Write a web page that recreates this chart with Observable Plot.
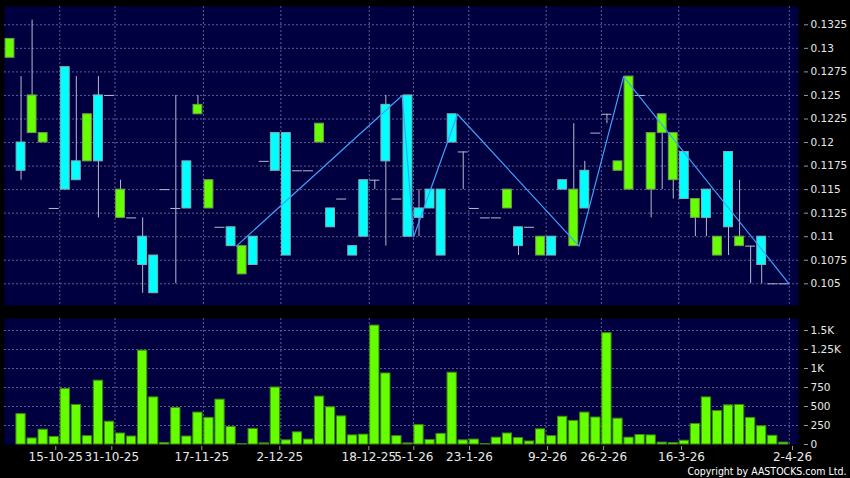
<!DOCTYPE html>
<html>
<head>
<meta charset="utf-8">
<script src="https://cdn.jsdelivr.net/npm/d3@7"></script>
<script src="https://cdn.jsdelivr.net/npm/@observablehq/plot@0.6"></script>
<style>
  html, body { margin: 0; padding: 0; background: #000; }
  #chart { width: 850px; height: 478px; background: #000; overflow: hidden; }
  #chart svg { display: block; }
</style>
</head>
<body>
<div id="chart"></div>
<script>
// ---- data ----
const opens  = [0.131,0.117,0.125,0.121,0.113,0.115,0.116,0.123,0.118,0.125,0.115,0.112,0.107,0.104,0.115,0.113,0.113,0.124,0.116,0.111,0.109,0.109,0.107,0.118,0.117,0.108,0.117,0.117,0.122,0.111,0.114,0.108,0.110,0.116,0.118,0.114,0.110,0.112,0.113,0.108,0.120,0.119,0.113,0.112,0.112,0.115,0.109,0.111,0.110,0.108,0.115,0.115,0.113,0.121,0.123,0.118,0.127,0.125,0.121,0.123,0.121,0.114,0.114,0.112,0.110,0.111,0.110,0.109,0.107,0.105,0.105];
const highs  = [0.131,0.127,0.133,0.121,0.113,0.128,0.127,0.123,0.127,0.125,0.116,0.112,0.112,0.108,0.115,0.125,0.118,0.125,0.116,0.111,0.111,0.109,0.110,0.118,0.121,0.121,0.117,0.117,0.122,0.113,0.114,0.109,0.116,0.116,0.125,0.114,0.125,0.115,0.115,0.115,0.123,0.119,0.113,0.112,0.112,0.115,0.111,0.111,0.110,0.110,0.116,0.122,0.118,0.121,0.123,0.118,0.127,0.125,0.121,0.123,0.121,0.119,0.114,0.115,0.110,0.119,0.116,0.109,0.110,0.105,0.105];
const lows   = [0.129,0.116,0.121,0.120,0.113,0.115,0.116,0.118,0.112,0.125,0.112,0.112,0.104,0.104,0.115,0.105,0.113,0.123,0.113,0.111,0.109,0.106,0.107,0.118,0.117,0.108,0.117,0.117,0.120,0.111,0.114,0.108,0.110,0.115,0.109,0.114,0.110,0.110,0.113,0.108,0.120,0.115,0.113,0.112,0.112,0.113,0.108,0.111,0.108,0.108,0.115,0.109,0.113,0.121,0.122,0.117,0.115,0.125,0.112,0.115,0.114,0.114,0.110,0.110,0.108,0.108,0.109,0.105,0.105,0.105,0.105];
const closes = [0.129,0.120,0.121,0.120,0.113,0.128,0.118,0.118,0.125,0.125,0.112,0.112,0.110,0.108,0.115,0.113,0.118,0.123,0.113,0.111,0.111,0.106,0.110,0.118,0.121,0.121,0.117,0.117,0.120,0.113,0.114,0.109,0.116,0.116,0.124,0.114,0.125,0.113,0.115,0.115,0.123,0.119,0.113,0.112,0.112,0.113,0.111,0.111,0.108,0.110,0.116,0.109,0.117,0.121,0.123,0.117,0.115,0.125,0.115,0.121,0.116,0.119,0.112,0.115,0.108,0.119,0.109,0.109,0.110,0.105,0.105];
const volumes = [0,400,80,195,100,730,520,110,840,300,145,105,1235,620,20,480,105,420,350,590,230,5,205,15,750,55,160,65,630,490,370,120,130,1565,935,110,15,255,60,140,945,55,65,5,90,145,85,40,200,110,365,310,420,355,1465,340,90,125,120,25,20,50,270,620,440,515,520,350,240,115,25];

// zig-zag line vertices (position on the date axis, price)
const zigzagX = [20.48, 35.48, 36.52, 40.48, 51.48, 55.5, 70.48];
const zigzagY = [0.109, 0.125, 0.110, 0.123, 0.109, 0.127, 0.105];

// axis ticks
const gridX = [4.5, 9.5, 17.5, 24.5, 32.5, 36.5, 41.5, 48.5, 53.5, 60.5, 70.5];
const dateTickX = [4.14, 9.21, 17.35, 24.41, 32.46, 36.53, 41.57, 48.63, 53.7, 60.75, 70.79];
const dateTickLabels = ["15-10-25","31-10-25","17-11-25","2-12-25","18-12-25","5-1-26","23-1-26","9-2-26","26-2-26","16-3-26","2-4-26"];
const priceTicks = [0.105,0.1075,0.11,0.1125,0.115,0.1175,0.12,0.1225,0.125,0.1275,0.13,0.1325];
const volTicks = [0,250,500,750,1000,1250,1500];
const volTickLabels = ["0","250","500","750","1K","1.25K","1.5K"];
const copyright = "Copyright by AASTOCKS.com Ltd.";

// ---- styling ----
const NAVY = "#000040";
const GRID = "#5c5c94";
const WICK = "#b8b8cc";
const CYAN = "#00ffff";
const CYAN_EDGE = "#7fb4b4";
const LIME = "#66ff00";
const LIME_EDGE = "#6f9f4f";
const VOL_EDGE = "#3a8a10";
const ZZ = "#3ea0ff";
const TEXT = "#e8e8e8";

const candles = opens.map((o, i) => ({i, o, h: highs[i], l: lows[i], c: closes[i], v: volumes[i]}));
const ups = candles.filter(d => d.c > d.o);
const downs = candles.filter(d => d.c < d.o);
const dashes = candles.filter(d => d.c === d.o);
const wicks = candles.filter(d => d.h > d.l);
const zigzag = zigzagX.map((x, k) => ({x, y: zigzagY[k]}));
const dateLabel = new Map(dateTickX.map((x, k) => [x, dateTickLabels[k]]));
const volLabel = new Map(volTicks.map((v, k) => [v, volTickLabels[k]]));

const xDomain = [-0.4976, 71.33];
const common = {
  width: 850,
  marginLeft: 4,
  marginRight: 52,
  style: {background: "#000", color: TEXT, fontFamily: "'DejaVu Sans', sans-serif", overflow: "visible"}
};
const grid = {stroke: GRID, strokeDasharray: "2,2", strokeWidth: 1};

const upper = Plot.plot({
  ...common,
  height: 312,
  marginTop: 6,
  marginBottom: 7,
  x: {domain: xDomain, axis: null, label: null},
  y: {domain: [0.102696, 0.134444], axis: null, label: null},
  marks: [
    Plot.frame({fill: NAVY, stroke: null}),
    Plot.ruleY(priceTicks, grid),
    Plot.ruleX(gridX, grid),
    Plot.ruleX(wicks, {x: "i", y1: "l", y2: "h", stroke: WICK}),
    Plot.rect(ups, {x1: d => d.i - 0.4, x2: d => d.i + 0.4, y1: "o", y2: "c", fill: CYAN, stroke: CYAN_EDGE}),
    Plot.rect(downs, {x1: d => d.i - 0.4, x2: d => d.i + 0.4, y1: "o", y2: "c", fill: LIME, stroke: LIME_EDGE}),
    Plot.ruleY(dashes, {y: "c", x1: d => d.i - 0.45, x2: d => d.i + 0.45, stroke: WICK}),
    Plot.line(zigzag, {x: "x", y: "y", stroke: ZZ, strokeWidth: 1.2}),
    Plot.axisY({anchor: "right", label: null, ticks: priceTicks, tickFormat: d => String(d), tickSize: 4, tickPadding: 3, dx: 5, fontSize: 10.5, stroke: "#9a9a9a"})
  ]
});

const lower = Plot.plot({
  ...common,
  height: 166,
  marginTop: 6,
  marginBottom: 34,
  x: {domain: xDomain, axis: null, label: null},
  y: {domain: [0, 1658], axis: null, label: null},
  marks: [
    Plot.frame({fill: NAVY, stroke: null}),
    Plot.ruleY(volTicks.filter(v => v > 0), grid),
    Plot.ruleX(gridX, grid),
    Plot.rect(candles.filter(d => d.v > 0), {x1: d => d.i - 0.42, x2: d => d.i + 0.42, y1: 0, y2: "v", fill: LIME, stroke: VOL_EDGE}),
    Plot.axisY({anchor: "right", label: null, ticks: volTicks, tickFormat: d => volLabel.get(d), tickSize: 4, tickPadding: 3, dx: 5, fontSize: 10.5, stroke: "#9a9a9a"}),
    Plot.axisX({anchor: "bottom", label: null, ticks: dateTickX, tickFormat: d => dateLabel.get(d), tickSize: 4, tickPadding: 2, dy: 2, fontSize: 12, stroke: "#9a9a9a"}),
    Plot.text([copyright], {text: d => d, frameAnchor: "bottom-right", dx: 48, dy: 27.5, textAnchor: "end", lineAnchor: "middle", fill: "#ffffff", fontSize: 10.5, fontFamily: "'DejaVu Sans Condensed', 'DejaVu Sans', sans-serif"})
  ]
});

const chart = document.getElementById("chart");
chart.appendChild(upper);
chart.appendChild(lower);
</script>
</body>
</html>
